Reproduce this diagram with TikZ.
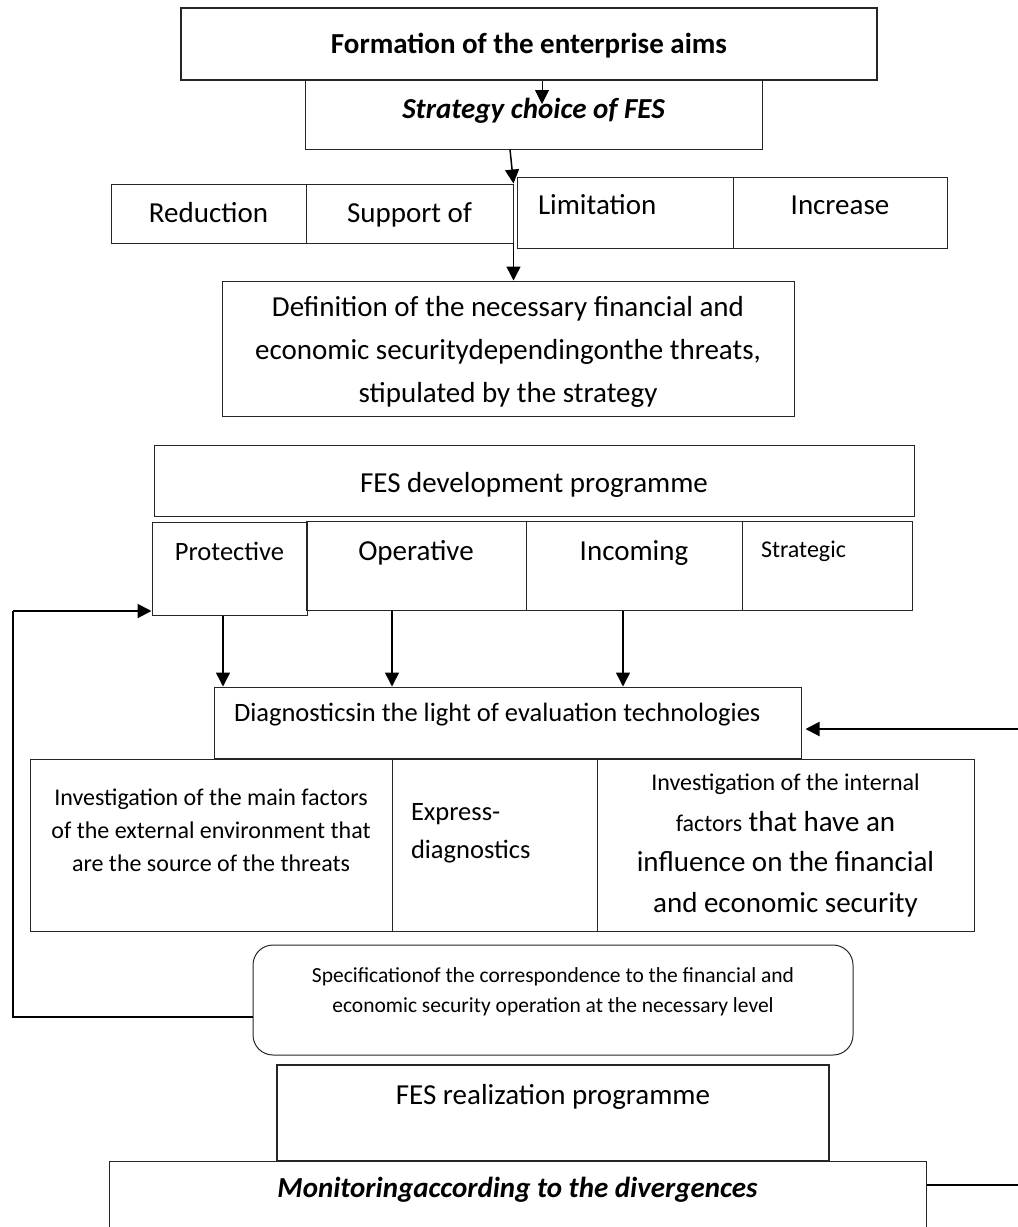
\documentclass[tikz,border=0pt]{standalone}
\usepackage{fontspec}
\setmainfont{Carlito}
\usetikzlibrary{arrows.meta}
\newcommand{\fs}[2]{\fontsize{#1}{#2}\selectfont}

\begin{document}
\begin{tikzpicture}[x=1pt, y=-1pt,
    box/.style={draw=black!85, line width=1pt, rectangle, inner sep=0pt, align=center, font=\fs{29}{43}},
    arr/.style={line width=1.5pt, -{Triangle[length=14pt,width=14pt]}},
    link/.style={line width=2pt}]
    \clip[use as bounding box] (0,0) rectangle (1018,1227);

    % Aims and strategy
    \node[box, line width=2pt, minimum width=696pt, text height=45.3pt, text depth=26.7pt, font=\bfseries\fs{29}{43}] (form) at (529,44) {Formation of the enterprise aims};
    \node[box, minimum width=457pt, text height=38.3pt, text depth=30.7pt, font=\bfseries\itshape\fs{29}{43}] (strat) at (533.5,114.5) {Strategy choice of FES};

    % Strategy types
    \node[box, minimum width=195pt, text height=38.7pt, text depth=20.3pt] (red) at (208.5,213.5) {Reduction};
    \node[box, minimum width=207pt, text height=38.7pt, text depth=20.3pt] (supp) at (409.5,213.5) {Support of};
    \node[box, inner xsep=21pt, text width=174pt, align=flush left, text height=37pt, text depth=34pt] (lim) at (625,212.5) {Limitation};
    \node[box, minimum width=214pt, text height=37pt, text depth=34pt] (incr) at (840,212.5) {Increase};

    \node[box, minimum width=572pt, text height=121pt, text depth=14pt] (defn) at (508,348.5) {Definition of the necessary financial and\\ economic securitydependingonthe threats,\\ stipulated by the strategy};

    % Development programme
    \node[box, minimum width=760pt, text height=47pt, text depth=24pt] (dev) at (534,480.5) {FES development programme};
    \node[box, minimum width=155pt, text height=38pt, text depth=55pt, font=\fs{26.5}{38}] (prot) at (229.5,568.5) {Protective};
    \node[box, minimum width=220pt, text height=39pt, text depth=50pt] (oper) at (416,565.5) {Operative};
    \node[box, minimum width=216pt, text height=39pt, text depth=50pt] (inco) at (634,565.5) {Incoming};
    \node[box, inner xsep=19pt, text width=132pt, align=flush left, text height=36pt, text depth=53pt, font=\fs{24}{33}] (strg) at (827,565.5) {Strategic};

    % Diagnostics
    \node[box, inner xsep=20pt, text width=547pt, align=flush left, text height=34.7pt, text depth=36.3pt, font=\fs{26.5}{38}] (diag) at (507.5,722.5) {Diagnosticsin the light of evaluation technologies};
    \node[box, minimum width=362pt, text height=112pt, text depth=60pt, font=\fs{24}{33}] (ext) at (211,845) {Investigation of the main factors\\ of the external environment that\\ are the source of the threats};
    \node[box, inner xsep=19pt, text width=167pt, align=flush left, text height=61.5pt, text depth=110.5pt, font=\fs{26.5}{38}] (expr) at (494.5,845) {Express-\\ diagnostics};
    \node[box, minimum width=377pt, text height=153pt, text depth=19pt, font=\fs{29}{40.5}] (intl) at (785.5,845) {{\fs{24}{40.5}Investigation of the internal}\\ {\fs{24}{40.5}factors} that have an\\ influence on the financial\\ and economic security};

    % Realization
    \node[box, rounded corners=20pt, minimum width=600pt, text height=67pt, text depth=43pt, font=\fs{21.5}{30}] (spec) at (553,1000) {Specificationof the correspondence to the financial and\\ economic security operation at the necessary level};
    \node[box, line width=2pt, minimum width=552pt, text height=39.3pt, text depth=56.7pt] (real) at (553,1113) {FES realization programme};
    \node[box, minimum width=817pt, text height=36pt, text depth=35pt, font=\bfseries\itshape\fs{29}{43}] (mon) at (517.5,1196.5) {Monitoringaccording to the divergences};

    % Arrows
    \draw[arr, line width=1pt] ([xshift=13pt]form.south) -- ++(0,23);
    \draw[arr] ([xshift=-23.5pt]strat.south) -- (supp.north east);
    \draw[arr] (supp.south east) -- (supp.south east |- defn.north);
    \draw[arr] ([xshift=-6.5pt]prot.south) -- ([xshift=-6.5pt]prot.south |- diag.north);
    \draw[arr] ([xshift=-24pt]oper.south) -- ([xshift=-24pt]oper.south |- diag.north);
    \draw[arr] ([xshift=-11pt]inco.south) -- ([xshift=-11pt]inco.south |- diag.north);

    % Feedback lines
    \coordinate (rin) at (1018,729);
    \draw[arr, line width=2pt, shorten >=4pt] (rin) -- (rin -| diag.east);
    \coordinate (fb) at (13,611);
    \draw[link] ([yshift=-17pt]spec.west) -| (fb);
    \draw[arr, line width=2pt] (fb) -- (fb -| prot.west);
    \coordinate (mout) at (1018,1185);
    \draw[link] (mon.east |- mout) -- (mout);
\end{tikzpicture}
\end{document}
